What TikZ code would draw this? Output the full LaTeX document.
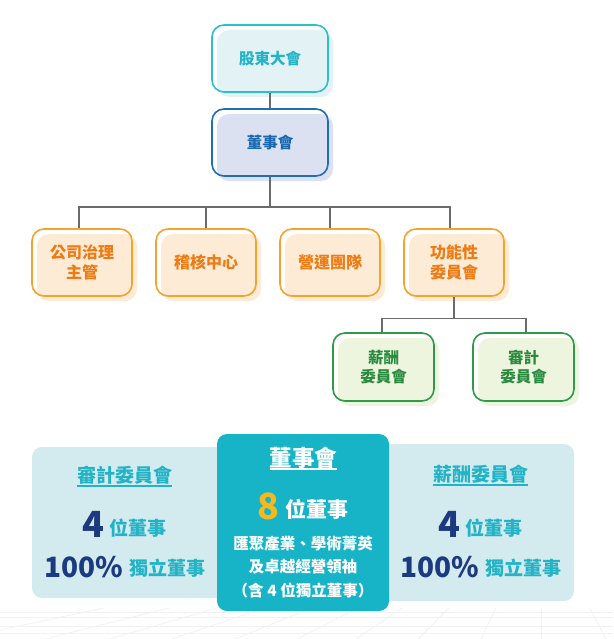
\documentclass[tikz,border=0pt]{standalone}
\usepackage{fontspec}
\setmainfont{Noto Sans CJK TC}
\usetikzlibrary{shadows,calc}

\definecolor{cyanline}{HTML}{2CBFD0}
\definecolor{cyanfill}{HTML}{E3F3F5}
\definecolor{cyantext}{HTML}{22B3C6}
\definecolor{blueline}{HTML}{1F6FB7}
\definecolor{bluefill}{HTML}{DCE1F1}
\definecolor{bluetext}{HTML}{1C68B0}
\definecolor{orangeline}{HTML}{F4A42A}
\definecolor{orangefill}{HTML}{FDEBD6}
\definecolor{orangetext}{HTML}{EE7B14}
\definecolor{greenline}{HTML}{2F9A4A}
\definecolor{greenfill}{HTML}{EEF5DE}
\definecolor{greentext}{HTML}{2A8B3F}
\definecolor{linkgray}{HTML}{6B6B6B}
\definecolor{panelfill}{HTML}{D3EBEF}
\definecolor{boardfill}{HTML}{17B4C8}
\definecolor{navy}{HTML}{1C3A80}
\definecolor{gold}{HTML}{F6B91D}
\definecolor{gridgray}{HTML}{F2F2F2}

\tikzset{
  orgbox/.style={draw=#1line, line width=1.6pt, rounded corners=12pt, inner sep=0pt,
    drop shadow={shadow xshift=5pt, shadow yshift=-5pt, fill=#1fill, opacity=1},
    text=#1text, align=center},
  link/.style={draw=linkgray, line width=1.2pt},
  panel/.style={fill=#1, rounded corners=10pt, inner sep=0pt},
  title/.style={font=\fontsize{19}{19}\selectfont\bfseries, inner sep=0pt, inner ysep=1.5pt},
  gridline/.style={draw=gridgray, line width=0.8pt}
}

\begin{document}
\begin{tikzpicture}[x=1pt,y=-1pt]

    \fill[white] (0,0) rectangle (613,639);
    \useasboundingbox (0,0) rectangle (613,639);

    % faint floor grid
    \begin{scope}
    \clip (0,608) rectangle (613,639);
    \draw[gridline] (0,612) -- (613,612);
    \draw[gridline] (0,617) -- (613,617);
    \draw[gridline] (0,626) -- (613,626);
    \draw[gridline] (0,633) -- (613,633);
    \coordinate (vanish) at (541,515);
    \draw[gridline] (vanish) -- ($(vanish)!2!(0,630)$);
    \draw[gridline] (vanish) -- ($(vanish)!2!(45,639)$);
    \draw[gridline] (vanish) -- ($(vanish)!2!(109,639)$);
    \draw[gridline] (vanish) -- ($(vanish)!2!(172,639)$);
    \draw[gridline] (vanish) -- ($(vanish)!2!(235,639)$);
    \draw[gridline] (vanish) -- ($(vanish)!2!(297,639)$);
    \draw[gridline] (vanish) -- ($(vanish)!2!(356,639)$);
    \draw[gridline] (vanish) -- ($(vanish)!2!(418,639)$);
    \draw[gridline] (vanish) -- ($(vanish)!2!(481,639)$);
    \draw[gridline] (vanish) -- ($(vanish)!2!(541,639)$);
    \draw[gridline] (vanish) -- ($(vanish)!2!(606,639)$);
    \end{scope}

    % organisation chart
    \node[orgbox=cyan, minimum width=116pt, minimum height=67pt,
        font=\fontsize{15.5}{18}\selectfont\bfseries] (meeting) at (270,58.5) {股東大會};
    \node[orgbox=blue, minimum width=116pt, minimum height=67pt,
        font=\fontsize{15.5}{18}\selectfont\bfseries] (board) at (270,142.5) {董事會};

    \node[orgbox=orange, minimum width=100pt, minimum height=67pt,
        font=\fontsize{16}{20.5}\selectfont\bfseries] (governance) at (82,262.5) {公司治理\\主管};
    \node[orgbox=orange, minimum width=100pt, minimum height=67pt,
        font=\fontsize{16}{20.5}\selectfont\bfseries] (audit) at (206,262.5) {稽核中心};
    \node[orgbox=orange, minimum width=100pt, minimum height=67pt,
        font=\fontsize{16}{20.5}\selectfont\bfseries] (operation) at (330,262.5) {營運團隊};
    \node[orgbox=orange, minimum width=100pt, minimum height=67pt,
        font=\fontsize{16}{20.5}\selectfont\bfseries] (functional) at (454,262.5) {功能性\\委員會};

    \node[orgbox=green, minimum width=101pt, minimum height=68pt,
        font=\fontsize{15.5}{18.5}\selectfont\bfseries] (salary) at (383.5,367) {薪酬\\委員會};
    \node[orgbox=green, minimum width=101pt, minimum height=68pt,
        font=\fontsize{15.5}{18.5}\selectfont\bfseries] (auditcom) at (523.5,367) {審計\\委員會};

    \coordinate (bus) at (270,207);
    \coordinate (subbus) at (454,318.7);
    \draw[link] (meeting) -- (board);
    \draw[link] (board.south) -- (bus);
    \draw[link] ([xshift=-3pt]governance.north) |- (bus) -| ([xshift=-4pt]functional.north);
    \draw[link] (audit.north) -- (audit.north |- bus);
    \draw[link] (operation.north) -- (operation.north |- bus);
    \draw[link] (functional.south) -- (subbus);
    \draw[link] ([xshift=-1.5pt]salary.north) |- (subbus) -| ([xshift=2.5pt]auditcom.north);

    % board summary panels
    \node[panel=panelfill, minimum width=198pt, minimum height=151pt] (leftpanel) at (131,522.5) {};
    \node[panel=panelfill, minimum width=198pt, minimum height=157pt] (rightpanel) at (475,522.5) {};
    \node[panel=boardfill, minimum width=172pt, minimum height=177pt] (midpanel) at (303,522.5) {};

    \node[title, text=cyantext] (leftttl) at (124.5,475) {審計委員會};
    \draw[cyantext, line width=1.8pt] (leftttl.south west) -- (leftttl.south east);
    \node[inner sep=0pt] (leftnum) at (124.5,524)
        {\fontsize{36}{36}\selectfont\bfseries\color{navy}4\hspace{5pt}%
         \raisebox{2pt}{\fontsize{19}{19}\selectfont\color{cyantext}位董事}};
    \node[inner sep=0pt] (leftpct) at (125,567.5)
        {\fontsize{28}{28}\selectfont\bfseries\color{navy}100\%\hspace{6pt}%
         \raisebox{2pt}{\fontsize{19}{19}\selectfont\color{cyantext}獨立董事}};

    \node[title, text=cyantext] (rightttl) at (480.5,474) {薪酬委員會};
    \draw[cyantext, line width=1.8pt] (rightttl.south west) -- (rightttl.south east);
    \node[inner sep=0pt] (rightnum) at (480.5,524)
        {\fontsize{36}{36}\selectfont\bfseries\color{navy}4\hspace{5pt}%
         \raisebox{2pt}{\fontsize{19}{19}\selectfont\color{cyantext}位董事}};
    \node[inner sep=0pt] (rightpct) at (481,567.5)
        {\fontsize{28}{28}\selectfont\bfseries\color{navy}100\%\hspace{6pt}%
         \raisebox{2pt}{\fontsize{19}{19}\selectfont\color{cyantext}獨立董事}};

    \node[title, font=\fontsize{22.5}{22.5}\selectfont\bfseries, inner ysep=0pt,
        text=white] (midttl) at (303.5,458) {董事會};
    \draw[white, line width=1.8pt] (midttl.south west) -- (midttl.south east);
    \node[inner sep=0pt] (midnum) at (303,506)
        {\fontsize{36}{36}\selectfont\bfseries\color{gold}8\hspace{7pt}%
         \raisebox{2pt}{\fontsize{21}{21}\selectfont\color{white}位董事}};
    \node[align=center, text=white, inner sep=0pt,
        font=\fontsize{15.5}{23.5}\selectfont\bfseries] (midtext) at (303,567)
        {匯聚產業、學術菁英\\及卓越經營領袖\\（含 4 位獨立董事）};

  \end{tikzpicture}
\end{document}
